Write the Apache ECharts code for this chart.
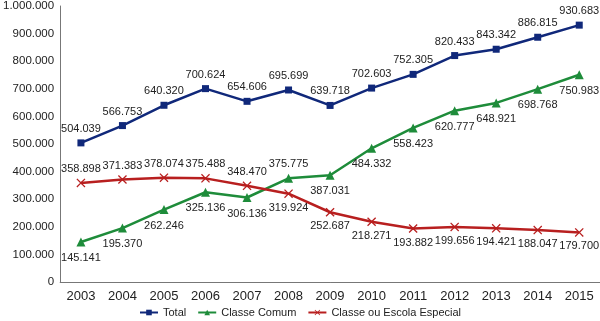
<!DOCTYPE html>
<html>
<head>
<meta charset="utf-8">
<script src="https://cdn.jsdelivr.net/npm/echarts@6/dist/echarts.min.js"></script>
<style>
  html, body { margin: 0; padding: 0; background: #fff; }
  #chart { width: 600px; height: 321px; }
</style>
</head>
<body>
<div id="chart"></div>
<script>
const years = ["2003", "2004", "2005", "2006", "2007", "2008", "2009", "2010", "2011", "2012", "2013", "2014", "2015"];
const total = [504039, 566753, 640320, 700624, 654606, 695699, 639718, 702603, 752305, 820433, 843342, 886815, 930683];
const classeComum = [145141, 195370, 262246, 325136, 306136, 375775, 387031, 484332, 558423, 620777, 648921, 698768, 750983];
const escolaEspecial = [358898, 371383, 378074, 375488, 348470, 319924, 252687, 218271, 193882, 199656, 194421, 188047, 179700];

const FONT = '"Liberation Sans Narrow", "Liberation Sans", Arial, sans-serif';
const fmt = v => String(v).replace(/\B(?=(\d{3})+(?!\d))/g, ".");
const xMark = 'path://M1,0 L5,4 L9,0 L10,1 L6,5 L10,9 L9,10 L5,6 L1,10 L0,9 L4,5 L0,1 Z';

// green labels: above only for 2008
const comumData = classeComum.map((v, i) => ({
  value: v,
  label: { position: i === 5 ? 'top' : 'bottom', distance: i === 5 ? 4 : 6 }
}));
// red labels: above until 2007, below after
const especialData = escolaEspecial.map((v, i) => ({
  value: v,
  label: { position: i <= 4 ? 'top' : 'bottom', distance: 4 }
}));

const chart = echarts.init(document.getElementById('chart'));
chart.setOption({
  animation: false,
  textStyle: { fontFamily: FONT },
  grid: { left: 52, right: -6, top: 4, bottom: 39 },
  xAxis: {
    type: 'category',
    data: years,
    axisLine: { lineStyle: { color: '#777', width: 1 } },
    axisTick: { show: false },
    axisLabel: { color: '#222', fontSize: 13, fontFamily: FONT, margin: 8 }
  },
  yAxis: {
    type: 'value',
    min: 0,
    max: 1000000,
    interval: 100000,
    splitLine: { show: false },
    axisLine: { show: true, lineStyle: { color: '#777', width: 1 } },
    axisTick: { show: false },
    axisLabel: { color: '#222', fontSize: 11.5, fontFamily: FONT, margin: 6, formatter: fmt }
  },
  legend: {
    top: 307,
    left: 'center',
    padding: 0,
    itemWidth: 18,
    itemHeight: 7,
    itemGap: 11,
    textStyle: { color: '#222', fontSize: 11, fontFamily: FONT },
    data: ['Total', 'Classe Comum', 'Classe ou Escola Especial']
  },
  series: [
    {
      name: 'Total',
      type: 'line',
      data: total,
      symbol: 'rect',
      symbolSize: 7,
      itemStyle: { color: '#10287a' },
      lineStyle: { color: '#10287a', width: 2.5 },
      label: { show: true, position: 'top', distance: 5, color: '#222', fontSize: 11, fontFamily: FONT, formatter: p => fmt(p.value) }
    },
    {
      name: 'Classe Comum',
      type: 'line',
      data: comumData,
      symbol: 'triangle',
      symbolSize: 9,
      itemStyle: { color: '#1e8c3a' },
      lineStyle: { color: '#1e8c3a', width: 2.5 },
      label: { show: true, color: '#222', fontSize: 11, fontFamily: FONT, formatter: p => fmt(p.value) }
    },
    {
      name: 'Classe ou Escola Especial',
      type: 'line',
      data: especialData,
      symbol: xMark,
      symbolSize: 9,
      itemStyle: { color: '#b81f1f' },
      lineStyle: { color: '#b81f1f', width: 2.5 },
      label: { show: true, color: '#222', fontSize: 11, fontFamily: FONT, formatter: p => fmt(p.value) }
    }
  ]
});
</script>
</body>
</html>
